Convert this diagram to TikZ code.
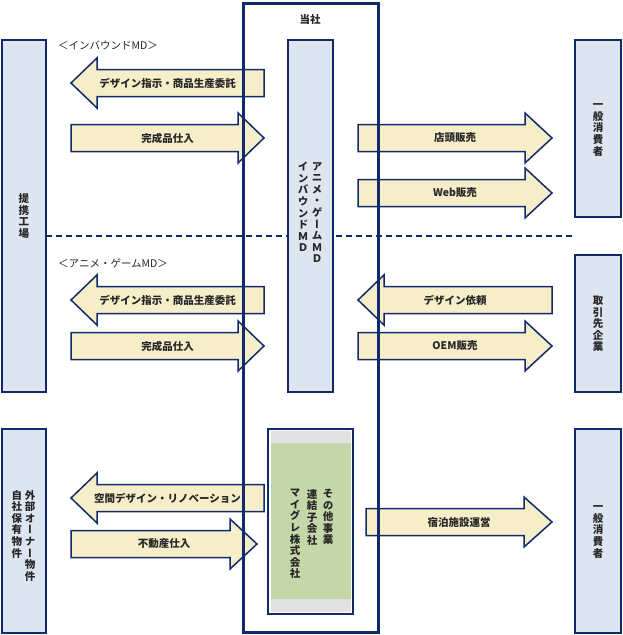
\documentclass[tikz,border=0pt]{standalone}
\usepackage{fontspec}
\setmainfont{Noto Sans CJK JP}
\newfontfamily\vfont[RawFeature=+vert]{Noto Sans CJK JP}
\definecolor{navy}{HTML}{102A6B}
\definecolor{boxfill}{HTML}{DCE5F0}
\definecolor{arrfill}{HTML}{F6EDC9}
\definecolor{greenfill}{HTML}{C3D7A9}
\definecolor{stripe}{HTML}{E2E2E2}
\tikzset{
  box/.style={draw=navy, fill=boxfill, line width=2pt, rectangle, inner sep=0pt},
  arrowbody/.style={draw=navy, fill=arrfill, line width=1.5pt, line join=miter},
  lbl/.style={font=\bfseries\fontsize{10.5}{12}\selectfont, inner sep=0pt, text=black!85},
  vtxt/.style={font=\vfont\bfseries\fontsize{10.5}{11.6}\selectfont, align=center, inner sep=0pt, text=black!85},
  dashline/.style={draw=navy, line width=1.3pt, dash pattern=on 6pt off 4pt},
  outerbox/.style={draw=navy, line width=3pt, rectangle, inner sep=0pt}
}
\newcommand\myrarrow[6]{%
  \draw[arrowbody] (#2,#5-13.5) -- (#3,#5-13.5) -- (#3,#5-25) -- (#4,#5) -- (#3,#5+25) -- (#3,#5+13.5) -- (#2,#5+13.5) -- cycle;
  \node[lbl] (#1) at ({(#2+#4)/2},#5) {#6};}
\newcommand\mylarrow[6]{%
  \draw[arrowbody] (#4,#5-13.5) -- (#3,#5-13.5) -- (#3,#5-25) -- (#2,#5) -- (#3,#5+25) -- (#3,#5+13.5) -- (#4,#5+13.5) -- cycle;
  \node[lbl] (#1) at ({(#2+#4)/2},#5) {#6};}
\begin{document}
\begin{tikzpicture}[x=1pt,y=-1pt]
\useasboundingbox (0,0) rectangle (622,635);
% dashed divider
\coordinate (dl) at (46,236);
\coordinate (dr) at (575,236);
\draw[dashline] (dl) -- (dr);
% arrows
\mylarrow{a1}{71}{97}{264}{83}{デザイン指示・商品生産委託}
\myrarrow{a2}{71}{238}{264}{138}{完成品仕入}
\myrarrow{a3}{358}{525}{552}{138}{店頭販売}
\myrarrow{a4}{358}{525}{552}{193}{Web販売}
\mylarrow{a5}{71}{97}{264}{300}{デザイン指示・商品生産委託}
\myrarrow{a6}{71}{238}{264}{346}{完成品仕入}
\mylarrow{a7}{358}{384}{552}{300}{デザイン依頼}
\myrarrow{a8}{358}{525}{552}{346}{OEM販売}
\mylarrow{a9}{71}{97}{264}{498}{空間デザイン・リノベーション}
\myrarrow{a10}{71}{230}{257}{544}{不動産仕入}
\myrarrow{a11}{366}{524}{552}{522}{宿泊施設運営}
% company outer box
\node[outerbox, minimum width=135.5pt, minimum height=629pt] (company) at (310.75,317.5) {};
\node[lbl] (companylbl) at (310,20) {当社};
% center box
\node[box, minimum width=45pt, minimum height=352pt] (center) at (310.5,216) {};
\node[vtxt, anchor=north] (c1) at (317,162) {ア\\ニ\\メ\\・\\ゲ\\ー\\ム\\Ｍ\\Ｄ};
\node[vtxt, anchor=north] (c2) at (303,162) {イ\\ン\\バ\\ウ\\ン\\ド\\Ｍ\\Ｄ};
% green box
\node[draw=navy, fill=white, line width=1.5pt, minimum width=85pt, minimum height=185pt, inner sep=0pt] (green) at (310.5,521.5) {};
\fill[stripe] (270.5,431) rectangle (350.5,612);
\fill[greenfill] (270.5,443) rectangle (350.5,599);
\node[vtxt, anchor=north] (g1) at (328,489) {そ\\の\\他\\事\\業};
\node[vtxt, anchor=north] (g2) at (312,489) {連\\結\\子\\会\\社};
\node[vtxt, anchor=north] (g3) at (295,489) {マ\\イ\\グ\\レ\\株\\式\\会\\社};
% side boxes
\node[box, minimum width=44pt, minimum height=352pt] (factory) at (24,216) {};
\node[vtxt] (factorylbl) at (24,216) {提\\携\\工\\場};
\node[box, minimum width=44pt, minimum height=204pt] (owner) at (24,531) {};
\node[vtxt, anchor=north] (o1) at (30,490) {外\\部\\オ\\ー\\ナ\\ー\\物\\件};
\node[vtxt, anchor=north] (o2) at (17,490) {自\\社\\保\\有\\物\\件};
\node[box, minimum width=46pt, minimum height=177pt] (cons1) at (598,128.5) {};
\node[vtxt] (cons1lbl) at (598,130) {一\\般\\消\\費\\者};
\node[box, minimum width=46pt, minimum height=137pt] (partner) at (598,323.5) {};
\node[vtxt] (partnerlbl) at (598,324) {取\\引\\先\\企\\業};
\node[box, minimum width=46pt, minimum height=204pt] (cons2) at (598,531) {};
\node[vtxt] (cons2lbl) at (598,532) {一\\般\\消\\費\\者};
% section labels
\node[lbl, anchor=west, font=\fontsize{10.5}{12}\selectfont] (sec1) at (58,45) {＜インバウンドMD＞};
\node[lbl, anchor=west, font=\fontsize{10.5}{12}\selectfont] (sec2) at (58,263) {＜アニメ・ゲームMD＞};
\end{tikzpicture}
\end{document}
